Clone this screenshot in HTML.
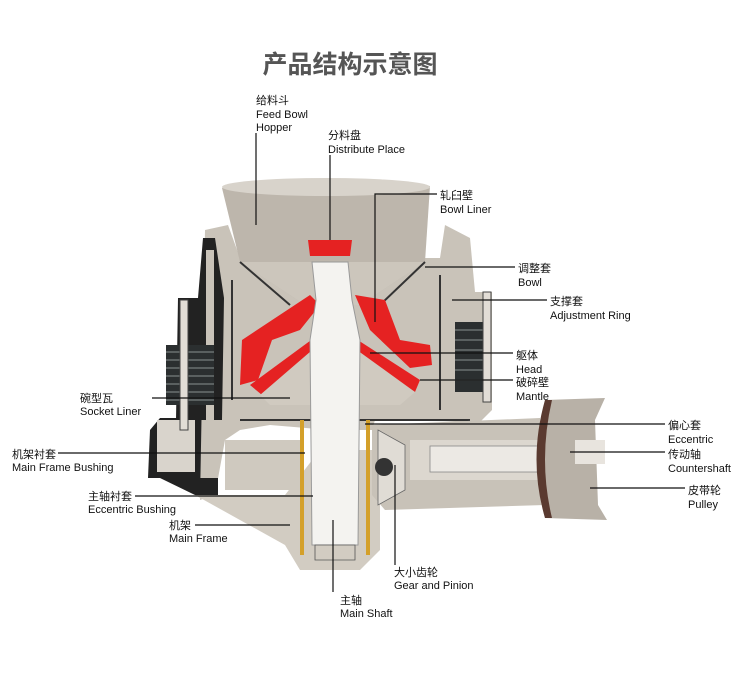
<!DOCTYPE html>
<html><head><meta charset="utf-8"><style>
html,body{margin:0;padding:0;background:#fff;}
svg text{font-family:"Liberation Sans","Noto Sans CJK SC",sans-serif;font-size:11px;fill:#111;}
</style></head><body>
<svg width="750" height="680" viewBox="0 0 750 680" xmlns="http://www.w3.org/2000/svg">
<text x="350" y="73" text-anchor="middle" style="font-size:25px;font-weight:bold;fill:#555">产品结构示意图</text>

<!-- left frame dark base -->
<path d="M150,430 L160,418 L218,418 L218,478 L148,478 Z" fill="#222"/>
<rect x="157" y="420" width="38" height="52" fill="#d9d4cc"/>
<!-- main body -->
<path d="M205,230 L228,225 L240,258 L440,258 L445,225 L470,238 L475,292 L492,292 L492,410 L480,422 L375,420 L372,430 L330,430 L270,425 L240,430 L225,440 L215,495 L200,500 Z" fill="#c9c3b9"/>
<path d="M215,238 L203,238 L198,298 L178,298 L176,420 L222,420 L224,298 Z" fill="#222"/>
<path d="M206,250 L214,250 L214,420 L206,420 Z" fill="#c9c3b9"/>
<!-- bottom main frame -->
<path d="M195,495 L285,495 L320,450 L380,450 L380,550 L360,570 L300,570 L285,545 Z" fill="#d2ccc2"/>
<path d="M225,440 L300,440 L300,490 L225,490 Z" fill="#cfc9bf"/>
<path d="M160,478 L218,478 L218,495 L195,495 Z" fill="#222"/>
<!-- hopper -->
<path d="M222,188 Q325,172 430,186 L425,262 L360,305 L305,305 L240,262 Z" fill="#bdb6ac"/>
<ellipse cx="326" cy="187" rx="104" ry="9" fill="#d8d3cb"/>
<path d="M240,262 L305,305 L360,305 L425,262 Z" fill="#ccc6bc"/>
<!-- dark detail lines -->
<g stroke="#333" stroke-width="2" fill="none">
<path d="M240,262 L290,305"/><path d="M425,262 L380,305"/>
<path d="M232,280 L232,400"/><path d="M440,275 L440,410"/>
<path d="M240,420 L470,420"/>
</g>
<!-- red liners -->
<path d="M242,340 L310,295 L320,305 L300,330 L272,340 L258,380 L240,385 Z" fill="#e52222"/>
<path d="M355,295 L385,300 L400,340 L430,345 L432,365 L410,368 L370,330 Z" fill="#e52222"/>
<path d="M250,385 L318,335 L318,350 L262,395 Z" fill="#e52222"/>
<path d="M350,335 L420,380 L415,392 L350,350 Z" fill="#e52222"/>
<path d="M308,240 L352,240 L350,256 L310,256 Z" fill="#e52222"/>
<!-- head cone -->
<path d="M260,395 L318,345 L350,345 L415,392 L400,405 L270,405 Z" fill="#d0cac0"/>
<!-- springs -->
<rect x="166" y="345" width="48" height="60" fill="#2b2f30"/>
<g stroke="#6a7070" stroke-width="1.5">
<line x1="166" y1="352" x2="214" y2="352"/><line x1="166" y1="360" x2="214" y2="360"/><line x1="166" y1="368" x2="214" y2="368"/><line x1="166" y1="376" x2="214" y2="376"/><line x1="166" y1="384" x2="214" y2="384"/><line x1="166" y1="392" x2="214" y2="392"/><line x1="166" y1="400" x2="214" y2="400"/>
</g>
<rect x="455" y="322" width="30" height="70" fill="#2b2f30"/>
<g stroke="#6a7070" stroke-width="1.5">
<line x1="455" y1="330" x2="485" y2="330"/><line x1="455" y1="340" x2="485" y2="340"/><line x1="455" y1="350" x2="485" y2="350"/><line x1="455" y1="360" x2="485" y2="360"/><line x1="455" y1="370" x2="485" y2="370"/><line x1="455" y1="380" x2="485" y2="380"/>
</g>
<rect x="180" y="300" width="8" height="130" fill="#e2ddd6" stroke="#444" stroke-width="1"/>
<rect x="483" y="292" width="8" height="110" fill="#e2ddd6" stroke="#444" stroke-width="1"/>
<!-- countershaft housing -->
<path d="M372,425 L540,418 L545,505 L385,510 L372,495 Z" fill="#c8c2b8"/>
<rect x="410" y="440" width="170" height="40" fill="#dcd7cf"/>
<rect x="430" y="446" width="140" height="26" fill="#ece9e4" stroke="#888" stroke-width="0.8"/>
<!-- pulley -->
<path d="M545,400 L605,398 L595,420 L598,505 L607,520 L545,518 Q530,460 545,400 Z" fill="#b8b1a7"/>
<path d="M545,400 Q528,460 545,518 L552,518 Q538,460 552,400 Z" fill="#5a3a30"/>
<rect x="575" y="440" width="30" height="24" fill="#e8e4de"/>
<!-- gear -->
<path d="M378,430 L405,445 L405,490 L378,505 Z" fill="#e0dcd5" stroke="#666" stroke-width="0.8"/>
<circle cx="384" cy="467" r="9" fill="#333"/>
<!-- bushings (gold) -->
<rect x="300" y="420" width="4" height="135" fill="#d4a02a"/>
<rect x="366" y="420" width="4" height="135" fill="#d4a02a"/>
<!-- main shaft -->
<path d="M312,262 L348,262 L352,300 L360,340 L358,545 L312,545 L310,340 L316,300 Z" fill="#f4f3f0" stroke="#999" stroke-width="1"/>
<path d="M315,545 L355,545 L355,560 L315,560 Z" fill="#d2ccc2" stroke="#555" stroke-width="0.8"/>

<!-- leader lines -->
<g stroke="#111" stroke-width="1.2" fill="none">
<path d="M256,133 L256,225"/>
<path d="M330,155 L330,240"/>
<path d="M437,194 L375,194 L375,322"/>
<path d="M515,267 L425,267"/>
<path d="M547,300 L452,300"/>
<path d="M513,353 L370,353"/>
<path d="M513,380 L420,380"/>
<path d="M665,424 L365,424"/>
<path d="M665,452 L570,452"/>
<path d="M685,488 L590,488"/>
<path d="M152,398 L290,398"/>
<path d="M58,453 L305,453"/>
<path d="M135,496 L313,496"/>
<path d="M195,525 L290,525"/>
<path d="M395,565 L395,465"/>
<path d="M333,592 L333,520"/>
</g>

<text x="256" y="104">给料斗</text>
<text x="256" y="118">Feed Bowl</text>
<text x="256" y="131">Hopper</text>
<text x="328" y="139">分料盘</text>
<text x="328" y="153">Distribute Place</text>
<text x="440" y="199">轧臼壁</text>
<text x="440" y="213">Bowl Liner</text>
<text x="518" y="272">调整套</text>
<text x="518" y="286">Bowl</text>
<text x="550" y="305">支撑套</text>
<text x="550" y="319">Adjustment Ring</text>
<text x="516" y="359">躯体</text>
<text x="516" y="373">Head</text>
<text x="516" y="386">破碎壁</text>
<text x="516" y="400">Mantle</text>
<text x="668" y="429">偏心套</text>
<text x="668" y="443">Eccentric</text>
<text x="668" y="458">传动轴</text>
<text x="668" y="472">Countershaft</text>
<text x="688" y="494">皮带轮</text>
<text x="688" y="508">Pulley</text>
<text x="80" y="402">碗型瓦</text>
<text x="80" y="415">Socket Liner</text>
<text x="12" y="458">机架衬套</text>
<text x="12" y="471">Main Frame Bushing</text>
<text x="88" y="500">主轴衬套</text>
<text x="88" y="513">Eccentric Bushing</text>
<text x="169" y="529">机架</text>
<text x="169" y="542">Main Frame</text>
<text x="394" y="576">大小齿轮</text>
<text x="394" y="589">Gear and Pinion</text>
<text x="340" y="604">主轴</text>
<text x="340" y="617">Main Shaft</text>
</svg>
</body></html>
